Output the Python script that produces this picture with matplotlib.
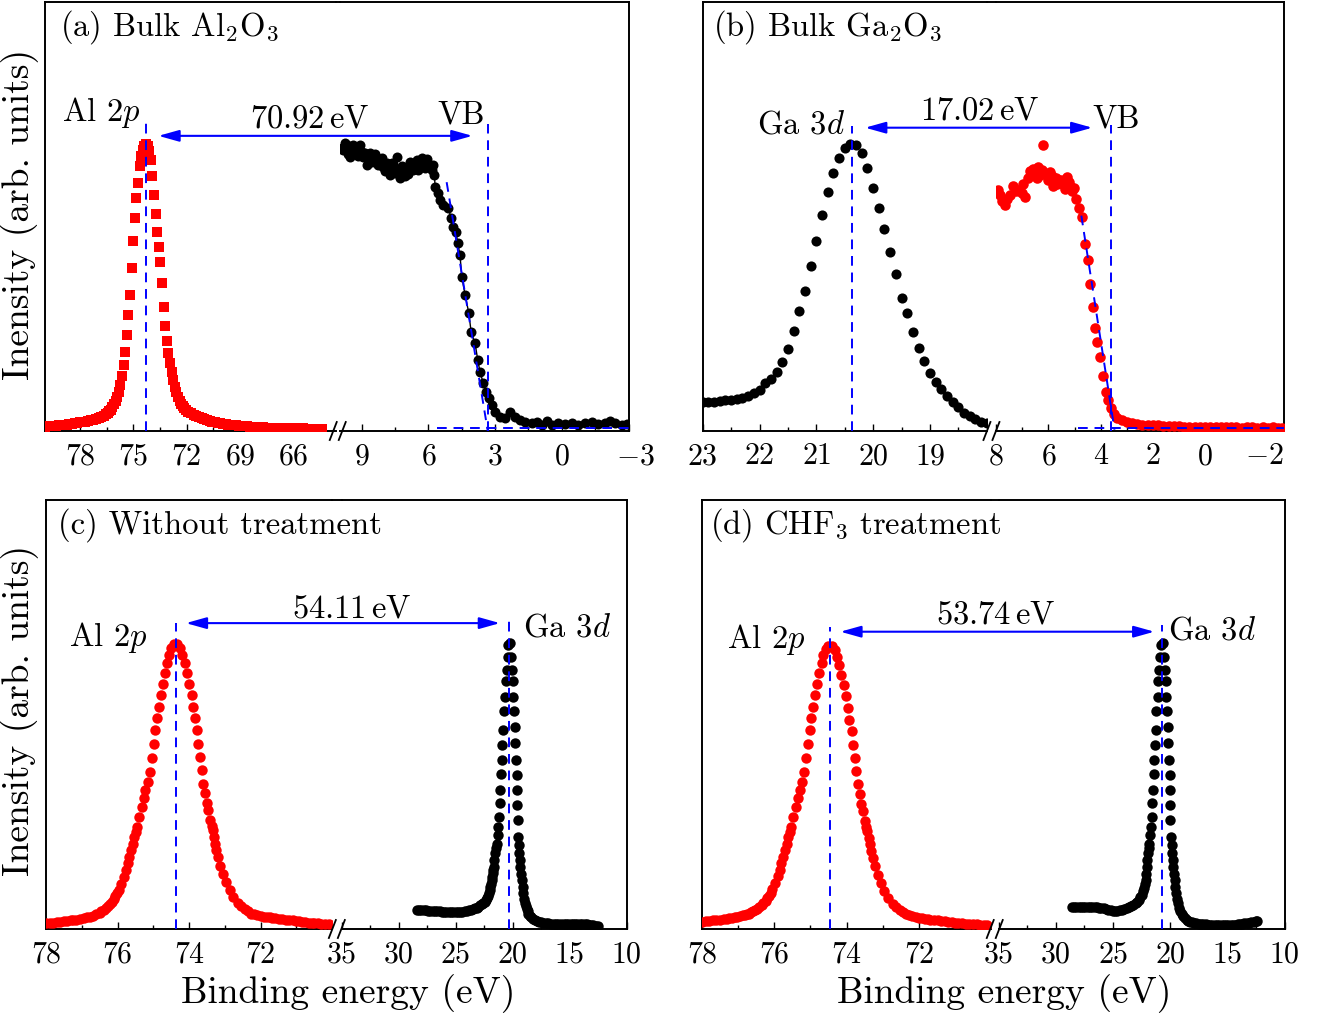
import matplotlib
matplotlib.use('Agg')
import matplotlib.pyplot as plt
from matplotlib.lines import Line2D
from matplotlib.patches import ArrowStyle
from matplotlib.transforms import ScaledTranslation

plt.rcParams['font.family'] = 'cmr10'
plt.rcParams['mathtext.fontset'] = 'cm'
plt.rcParams['axes.formatter.use_mathtext'] = True

# ---------------- data (binding energy eV, intensity as % of axis height) ----------------
# (a) bulk Al2O3 : Al 2p core level
a_al_E = [79.95, 79.8, 79.65, 79.5, 79.35, 79.2, 79.05, 78.9, 78.75, 78.6, 78.45, 78.3, 78.15,
          78.0, 77.85, 77.7, 77.55, 77.4, 77.25, 77.1, 76.95, 76.8, 76.67, 76.54, 76.45,
          76.36, 76.27, 76.18, 76.09, 76.0, 75.91, 75.82, 75.73, 75.64, 75.55, 75.46, 75.37,
          75.28, 75.19, 75.1, 75.01, 74.92, 74.83, 74.74, 74.65, 74.56, 74.47, 74.38, 74.29,
          74.2, 74.11, 74.02, 73.93, 73.84, 73.75, 73.66, 73.57, 73.48, 73.39, 73.3, 73.21,
          73.12, 73.03, 72.94, 72.85, 72.76, 72.67, 72.58, 72.49, 72.4, 72.31, 72.22, 72.13,
          72.04, 71.9, 71.75, 71.6, 71.45, 71.3, 71.15, 71.0, 70.85, 70.7, 70.55, 70.4, 70.25,
          70.1, 69.95, 69.8, 69.65, 69.5, 69.35, 69.2, 69.05, 68.9, 68.75, 68.6, 68.45, 68.3,
          68.15, 68.0, 67.85, 67.7, 67.55, 67.4, 67.25, 67.1, 66.95, 66.8, 66.65, 66.5, 66.35,
          66.2, 66.05, 65.9, 65.75, 65.6, 65.45, 65.3, 65.15, 65.0, 64.85, 64.7, 64.55, 64.4]
a_al_I = [1.0, 1.05, 1.1, 1.15, 1.2, 1.3, 1.35, 1.45, 1.5, 1.6, 1.7, 1.8, 1.9,
          2.0, 2.1, 2.2, 2.3, 2.45, 2.6, 2.8, 3.0, 3.3, 3.6, 4.0, 4.3,
          4.6, 5.0, 5.6, 6.2, 7.0, 8.0, 9.2, 10.8, 12.9, 15.5, 18.5, 22.4,
          27.0, 31.7, 38.1, 44.2, 49.6, 54.2, 57.7, 61.8, 64.2, 65.5, 66.5, 66.8,
          66.4, 65.3, 63.2, 59.5, 55.0, 50.5, 46.5, 43.0, 39.5, 34.5, 29.0, 24.5,
          21.0, 18.2, 15.8, 13.8, 11.8, 10.3, 9.0, 8.0, 7.1, 6.4, 5.8, 5.3,
          4.9, 4.5, 4.2, 3.8, 3.5, 3.2, 3.0, 2.8, 2.6, 2.4, 2.2, 2.0, 1.9,
          1.8, 1.7, 1.6, 1.5, 1.4, 1.35, 1.3, 1.2, 1.15, 1.1, 1.05, 1.0, 0.95,
          0.9, 0.9, 0.85, 0.85, 0.8, 0.8, 0.75, 0.75, 0.7, 0.7, 0.7, 0.65, 0.65,
          0.65, 0.6, 0.6, 0.6, 0.6, 0.6, 0.55, 0.55, 0.55, 0.55, 0.55, 0.55, 0.55]
# (a) valence band
a_vb_E = [9.90, 9.83, 9.76, 9.68, 9.61, 9.53, 9.46, 9.38, 9.31, 9.23, 9.16, 9.08, 9.00, 8.93,
          8.86, 8.78, 8.70, 8.63, 8.55, 8.48, 8.40, 8.33, 8.25, 8.18, 8.10, 8.03, 7.95, 7.88,
          7.80, 7.73, 7.65, 7.58, 7.50, 7.43, 7.35, 7.28, 7.20, 7.13, 7.05, 6.98, 6.90, 6.83,
          6.75, 6.68, 6.60, 6.53, 6.45, 6.38, 6.30, 6.23, 6.15, 6.08, 6.00, 5.93, 5.85, 5.78,
          5.73, 5.70, 5.55, 5.48, 5.33, 5.10, 4.98, 4.90, 4.77, 4.68, 4.58, 4.50, 4.35, 4.18,
          4.08, 3.90, 3.78, 3.68, 3.53, 3.42, 3.27, 3.15, 3.00, 2.78, 2.55, 2.33, 2.10, 1.88,
          1.65, 1.35, 1.13, 0.90, 0.68, 0.45, 0.15, -0.15, -0.45, -0.75, -1.05, -1.35, -1.65,
          -1.95, -2.17, -2.39, -2.69, -2.92]
a_vb_I = [66.0, 65.5, 67.2, 66.7, 64.5, 63.9, 65.8, 66.7, 64.8, 65.9, 64.2, 66.7, 65.0, 63.9,
          64.9, 62.0, 63.5, 64.7, 62.8, 63.9, 64.5, 63.2, 61.9, 62.8, 63.6, 61.6, 60.5, 62.4,
          61.0, 59.7, 62.5, 61.6, 60.2, 63.9, 60.9, 58.9, 61.8, 60.1, 59.5, 61.6, 60.0, 62.8,
          61.5, 60.8, 62.2, 63.2, 60.9, 61.6, 63.6, 62.8, 61.2, 63.5, 62.0, 61.6, 60.8, 62.0,
          59.7, 56.9, 55.4, 53.8, 52.7, 51.9, 49.6, 47.6, 46.5, 43.8, 41.0, 36.0, 31.7, 27.4,
          23.1, 20.4, 16.5, 13.8, 11.1, 9.2, 7.6, 6.1, 4.5, 3.3, 3.0, 4.5, 3.3, 2.6,
          2.2, 1.8, 2.2, 1.4, 2.3, 1.4, 1.8, 1.6, 1.8, 1.4, 1.8, 2.0, 1.6,
          1.8, 2.3, 1.8, 1.4, 1.6]
# (b) bulk Ga2O3 : Ga 3d core level
b_ga_E = [23.0, 22.9, 22.8, 22.7, 22.6, 22.5, 22.4, 22.3, 22.2, 22.1, 22.0, 21.9, 21.8, 21.7,
          21.6, 21.5, 21.4, 21.3, 21.2, 21.1, 21.0, 20.9, 20.8, 20.7, 20.6, 20.5, 20.4, 20.3,
          20.2, 20.1, 20.0, 19.9, 19.8, 19.7, 19.6, 19.5, 19.4, 19.3, 19.2, 19.1, 19.0, 18.9,
          18.8, 18.7, 18.6, 18.5, 18.4, 18.3, 18.2, 18.1, 18.0]
b_ga_I = [6.8, 6.8, 6.8, 7.0, 7.2, 7.3, 7.5, 7.7, 8.2, 8.8, 9.6, 11.1, 12.1, 13.8,
          16.2, 19.2, 23.3, 28.0, 32.7, 38.5, 44.4, 50.3, 55.6, 60.1, 63.7, 65.9, 66.8, 66.7,
          64.7, 61.4, 56.6, 52.0, 47.2, 41.8, 36.5, 31.0, 27.4, 23.1, 19.4, 16.3, 13.6, 11.4,
          9.7, 8.2, 6.7, 5.5, 4.3, 3.5, 2.7, 2.2, 1.8]
# (b) valence band
b_vb_E = [7.92, 7.85, 7.79, 7.67, 7.58, 7.47, 7.35, 7.25, 7.15, 7.03, 6.97, 6.90, 6.77, 6.70,
          6.64, 6.58, 6.51, 6.45, 6.41, 6.32, 6.25, 6.19, 6.06, 6.00, 5.94, 5.88, 5.81, 5.72,
          5.66, 5.61, 5.50, 5.42, 5.35, 5.29, 5.22, 5.17, 5.10, 5.04, 4.95, 4.82, 4.72, 4.61,
          4.49, 4.40, 4.31, 4.20, 4.14, 4.01, 3.92, 3.79, 3.72, 3.59, 3.50, 3.37, 3.18, 3.00,
          2.80, 2.60, 2.40, 2.20, 2.00, 1.80, 1.60, 1.40, 1.20, 1.00, 0.80, 0.60, 0.40, 0.20,
          0.00, -0.20, -0.40, -0.60, -0.80, -1.00, -1.20, -1.40, -1.60, -1.80, -2.00, -2.20,
          -2.40, -2.60, -2.80, -2.95]
b_vb_I = [56.2, 55.0, 53.5, 52.7, 54.0, 55.0, 57.0, 56.0, 56.2, 55.4, 57.5, 54.6, 58.9, 60.5,
          59.7, 61.0, 60.1, 59.0, 61.6, 59.7, 60.8, 66.7, 59.7, 58.5, 60.4, 59.5, 57.0, 58.9,
          57.5, 58.1, 58.5, 57.3, 56.5, 59.3, 58.0, 57.0, 56.0, 56.6, 54.1, 51.9, 49.9, 43.7,
          39.9, 34.3, 28.8, 24.1, 20.8, 17.2, 12.8, 9.2, 7.2, 5.3, 3.9, 3.1, 2.6, 2.2,
          1.8, 1.6, 1.5, 1.4, 1.35, 1.3, 1.2, 1.2, 1.1, 1.05, 1.0, 1.0, 0.95, 0.95,
          0.9, 0.9, 0.9, 0.85, 0.85, 0.9, 0.85, 0.8, 0.85, 0.85, 0.8, 0.85,
          0.8, 0.85, 0.8, 0.8]
# (c) without treatment : Al 2p and Ga 3d
c_al_E = [78.0, 77.9, 77.8, 77.7, 77.6, 77.5, 77.4, 77.3, 77.24, 77.15, 77.05, 76.95, 76.86,
          76.77, 76.7, 76.6, 76.5, 76.45, 76.39, 76.33, 76.27, 76.21, 76.16, 76.11, 76.06,
          76.01, 75.97, 75.9, 75.83, 75.77, 75.72, 75.67, 75.62, 75.57, 75.53, 75.49, 75.45,
          75.39, 75.32, 75.27, 75.22, 75.16, 75.1, 75.04, 74.98, 74.94, 74.89, 74.84, 74.78,
          74.73, 74.68, 74.61, 74.56, 74.5, 74.42, 74.33, 74.25, 74.19, 74.12, 74.06, 74.0,
          73.93, 73.88, 73.84, 73.78, 73.74, 73.69, 73.65, 73.6, 73.56, 73.51, 73.46, 73.41,
          73.37, 73.34, 73.31, 73.28, 73.24, 73.2, 73.13, 73.06, 72.97, 72.87, 72.76, 72.64,
          72.55, 72.45, 72.35, 72.26, 72.18, 72.1, 72.0, 71.9, 71.82, 71.75, 71.67, 71.6,
          71.5, 71.4, 71.3, 71.2, 71.1, 71.0, 70.92, 70.85, 70.75, 70.65, 70.57, 70.5, 70.4,
          70.3, 70.2, 70.1]
c_al_I = [1.3, 1.4, 1.5, 1.6, 1.7, 1.8, 1.9, 2.0, 2.1, 2.2, 2.4, 2.6, 2.75,
          2.9, 3.05, 3.4, 3.8, 4.1, 4.4, 4.85, 5.3, 5.85, 6.4, 7.0, 7.6,
          8.3, 9.1, 10.6, 12.2, 13.7, 15.3, 16.8, 18.4, 19.9, 21.5, 22.6, 23.8,
          26.2, 28.5, 30.6, 32.4, 34.2, 36.5, 39.8, 43.1, 46.4, 49.1, 51.8, 54.5,
          57.1, 59.6, 61.9, 63.9, 65.6, 66.4, 66.4, 65.4, 63.9, 61.9, 59.6, 57.1,
          54.5, 51.8, 49.1, 46.4, 43.1, 40.1, 37.0, 33.9, 31.6, 29.3, 27.7, 25.4,
          24.0, 23.0, 21.5, 19.9, 18.3, 16.8, 14.8, 12.9, 10.9, 9.1, 7.4, 6.0,
          5.3, 4.6, 4.1, 3.6, 3.45, 3.3, 3.1, 2.9, 2.8, 2.7, 2.6, 2.5,
          2.4, 2.3, 2.2, 2.1, 2.0, 1.9, 1.8, 1.7, 1.6, 1.5, 1.45, 1.4, 1.33,
          1.25, 1.18, 1.1]
c_ga_E = [28.41, 28.2, 28.0, 27.8, 27.6, 27.4, 27.2, 27.0, 26.8, 26.6, 26.4, 26.2, 26.0, 25.8,
          25.6, 25.4, 25.2, 25.0, 24.8, 24.6, 24.4, 24.2, 24.0, 23.8, 23.6, 23.45, 23.3, 23.15,
          23.0, 22.85, 22.7, 22.55, 22.41, 22.3, 22.2, 22.13, 22.06, 21.99, 21.93, 21.88, 21.83,
          21.78, 21.73, 21.69, 21.65, 21.59, 21.53, 21.46, 21.39, 21.31, 21.24,
          21.18, 21.13, 21.07, 21.01, 20.95, 20.89, 20.83, 20.77, 20.66, 20.6, 20.51, 20.42,
          20.37, 20.22, 20.13, 20.01, 19.96, 19.93, 19.87, 19.78, 19.75, 19.69, 19.63, 19.6,
          19.58, 19.55, 19.49, 19.45, 19.4, 19.35, 19.31, 19.25, 19.19, 19.12, 19.05, 18.97,
          18.9, 18.82, 18.75, 18.68, 18.61, 18.48, 18.35, 18.2, 18.03, 17.85, 17.7, 17.5, 17.3,
          17.1, 16.86, 16.6, 16.4, 16.2, 16.0, 15.75, 15.5, 15.3, 15.1, 14.9, 14.7, 14.5,
          14.3, 14.1, 13.9, 13.64, 13.45, 13.3, 13.1, 12.9, 12.7, 12.47]
c_ga_I = [4.4, 4.4, 4.4, 4.4, 4.35, 4.3, 4.3, 4.25, 4.2, 4.15, 4.1, 4.05, 4.05, 4.0,
          4.0, 3.95, 3.9, 3.9, 3.9, 3.95, 4.0, 4.1, 4.2, 4.35, 4.5, 4.65, 4.8, 5.0,
          5.2, 5.5, 5.8, 6.1, 6.4, 6.8, 7.3, 7.8, 8.3, 9.0, 9.8, 10.6, 11.4,
          12.2, 13.0, 13.7, 14.5, 16.0, 17.6, 18.8, 19.9, 21.8, 23.8,
          26.2, 29.3, 32.4, 36.1, 39.4, 42.9, 46.4, 50.7, 54.1, 57.7, 60.4, 63.5,
          66.2, 66.6, 63.5, 60.4, 57.7, 54.1, 50.7, 47.2, 43.3, 39.4, 35.9, 32.4,
          28.9, 25.4, 21.5, 19.5, 17.6, 16.0, 14.5, 12.9, 11.4, 9.8, 8.3, 7.1,
          6.0, 5.3, 4.6, 4.1, 3.6, 3.1, 2.7, 2.4, 2.1, 1.9, 1.7, 1.6, 1.5,
          1.4, 1.3, 1.25, 1.2, 1.18, 1.15, 1.12, 1.1, 1.1, 1.1, 1.1, 1.1, 1.1,
          1.1, 1.1, 1.1, 1.1, 1.05, 1.0, 0.93, 0.85, 0.78, 0.7]
# (d) CHF3 treatment : Al 2p and Ga 3d
d_al_E = [78.0, 77.9, 77.8, 77.7, 77.6, 77.5, 77.4, 77.32, 77.25, 77.17, 77.1, 77.02, 76.95,
          76.87, 76.8, 76.75, 76.7, 76.64, 76.58, 76.52, 76.47, 76.41, 76.35, 76.3, 76.24,
          76.19, 76.14, 76.1, 76.05, 75.98, 75.91, 75.85, 75.8, 75.75, 75.7, 75.65, 75.61,
          75.57, 75.53, 75.47, 75.4, 75.35, 75.3, 75.24, 75.18, 75.12, 75.06, 75.02, 74.97,
          74.92, 74.86, 74.81, 74.76, 74.69, 74.64, 74.58, 74.5, 74.41, 74.33, 74.27, 74.2,
          74.14, 74.08, 74.01, 73.96, 73.92, 73.86, 73.82, 73.77, 73.73, 73.68, 73.64, 73.59,
          73.54, 73.49, 73.45, 73.42, 73.39, 73.36, 73.32, 73.28, 73.21, 73.14, 73.05, 72.95,
          72.84, 72.72, 72.63, 72.53, 72.44, 72.34, 72.26, 72.18, 72.08, 71.98, 71.9, 71.83,
          71.75, 71.68, 71.58, 71.48, 71.38, 71.28, 71.18, 71.08, 70.99, 70.9, 70.8, 70.7,
          70.6, 70.5, 70.4, 70.3, 70.2, 70.1]
d_al_I = [1.7, 1.8, 1.9, 2.0, 2.1, 2.2, 2.3, 2.4, 2.5, 2.6, 2.7, 2.85, 3.0,
          3.15, 3.3, 3.45, 3.6, 3.85, 4.1, 4.4, 4.7, 5.1, 5.5, 6.0, 6.6,
          7.2, 7.8, 8.5, 9.3, 10.8, 12.3, 13.8, 15.3, 16.8, 18.4, 19.9, 21.5,
          22.6, 23.8, 26.2, 28.5, 30.6, 32.4, 34.2, 36.5, 39.8, 43.1, 46.4, 49.1,
          51.8, 54.5, 57.1, 59.6, 61.9, 63.9, 65.3, 65.9, 65.9, 65.0, 63.5, 61.5,
          59.3, 56.8, 54.2, 51.5, 48.8, 46.1, 42.8, 39.8, 36.8, 33.7, 31.4, 29.1,
          27.5, 25.2, 23.8, 22.8, 21.3, 19.7, 18.1, 16.6, 14.6, 12.7, 10.7, 8.9,
          7.2, 5.8, 5.1, 4.4, 3.9, 3.4, 3.2, 3.0, 2.8, 2.6, 2.5, 2.4,
          2.3, 2.2, 2.1, 2.0, 1.9, 1.8, 1.7, 1.6, 1.5, 1.4, 1.3, 1.2,
          1.15, 1.1, 1.05, 1.0, 0.95, 0.9]
d_ga_E = [28.6, 28.4, 28.2, 28.0, 27.8, 27.6, 27.4, 27.2, 27.0, 26.8, 26.6, 26.4, 26.2, 26.0,
          25.8, 25.6, 25.4, 25.2, 25.0, 24.8, 24.6, 24.4, 24.2, 24.0, 23.8, 23.6, 23.4, 23.2,
          23.0, 22.87, 22.75, 22.62, 22.5, 22.4, 22.3, 22.22, 22.15, 22.1, 22.05, 22.0, 21.95,
          21.88, 21.81, 21.73, 21.66, 21.6, 21.55, 21.49,
          21.43, 21.37, 21.31, 21.25, 21.19, 21.08, 21.02, 20.93, 20.84, 20.79, 20.64, 20.55,
          20.43, 20.38, 20.35, 20.29, 20.2, 20.17, 20.11, 20.05, 20.02, 20.0, 19.97, 19.91,
          19.87, 19.82, 19.78, 19.73, 19.67, 19.61, 19.54, 19.47, 19.4, 19.32, 19.2, 19.1,
          18.97, 18.85, 18.7, 18.55, 18.4, 18.25, 18.08, 17.9, 17.7, 17.5, 17.3, 17.1,
          16.9, 16.7, 16.5, 16.3, 16.1, 15.9, 15.7, 15.5, 15.3, 15.1, 14.9, 14.7, 14.5,
          14.3, 14.1, 13.9, 13.7, 13.5, 13.3, 13.1, 12.9, 12.7, 12.5, 12.37]
d_ga_I = [5.2, 5.2, 5.2, 5.2, 5.2, 5.2, 5.2, 5.2, 5.2, 5.15, 5.1, 5.05, 5.0, 4.9,
          4.8, 4.65, 4.5, 4.4, 4.3, 4.25, 4.3, 4.4, 4.5, 4.65, 4.8, 5.05, 5.3, 5.6,
          6.0, 6.4, 6.8, 7.4, 8.0, 8.8, 9.6, 10.5, 11.4, 12.9, 14.5, 16.0, 17.6,
          18.8, 19.9, 21.8, 23.8, 26.2, 29.3, 32.4,
          36.1, 39.4, 42.9, 46.4, 50.7, 54.1, 57.7, 60.4, 63.5, 66.2, 66.6, 63.5,
          60.4, 57.7, 54.1, 50.7, 47.2, 43.3, 39.4, 35.9, 32.4, 28.9, 25.4, 21.5,
          19.5, 17.6, 16.0, 14.5, 12.9, 11.4, 9.8, 8.3, 7.1, 6.0, 5.0, 4.2,
          3.6, 3.0, 2.6, 2.2, 1.95, 1.7, 1.55, 1.4, 1.3, 1.2, 1.15, 1.1,
          1.05, 1.0, 1.0, 1.0, 1.0, 1.0, 1.0, 1.0, 1.0, 1.0, 1.0, 1.0, 1.0,
          1.0, 1.05, 1.1, 1.2, 1.3, 1.4, 1.5, 1.6, 1.7, 1.8, 1.9]

# peak / edge positions (eV) and labels
a_al2p, a_vbm = 74.29, 3.33
b_ga3d, b_vbm = 20.37, 3.59
c_al2p, c_ga3d = 74.38, 20.27
d_al2p, d_ga3d = 74.46, 20.72
gap_labels = ['70.92$\\,$eV', '17.02$\\,$eV', '54.11$\\,$eV', '53.74$\\,$eV']
# linear leading-edge extrapolations (E, I) and flat baselines (E range, I)
a_edge = ([5.18, 3.33], [58.0, 0.0]); a_base = ([5.63, -3.0], [0.8, 0.8])
b_edge = ([4.74, 3.47], [50.2, 0.3]); b_base = ([4.85, -3.0], [0.6, 0.6])

# ---------------- figure ----------------
W, H = 1321, 1013
fig = plt.figure(figsize=(W / 100, H / 100), dpi=100)
TICK, ANN, LAB = 21.5, 23.5, 27
BLUE = '#0000ff'
DASH = (0, (5, 3.5))


def fx(x):
    return x / W


def fy(y):
    return 1 - y / H


def add_ax(x0, x1, ytop, ybot):
    return fig.add_axes([x0 / W, 1 - ybot / H, (x1 - x0) / W, (ybot - ytop) / H])


def panel(ytop, ybot, lx, rx, llim, rlim, lmaj, lmin, rmaj, rmin):
    axL = add_ax(lx[0], lx[1], ytop, ybot)
    axR = add_ax(rx[0], rx[1], ytop, ybot)
    for ax, lim, maj, mn in ((axL, llim, lmaj, lmin), (axR, rlim, rmaj, rmin)):
        ax.set_xlim(*lim)
        ax.set_ylim(0, 100)
        ax.set_yticks([])
        ax.set_xticks(maj, labels=['$%g$' % v for v in maj])
        ax.set_xticks(mn, minor=True)
        ax.tick_params(axis='x', which='both', direction='in', top=False, bottom=True,
                       labelsize=TICK, pad=8.5, width=1.0)
        ax.tick_params(axis='x', which='major', length=5)
        ax.tick_params(axis='x', which='minor', length=3)
        ax.set_axisbelow(True)
        for s in ax.spines.values():
            s.set_linewidth(1.4)
        for t in ax.xaxis.get_major_ticks():
            if t.get_loc() < 0:
                t.label1.set_transform(t.label1.get_transform() +
                                       ScaledTranslation(7 / 100, 0, fig.dpi_scale_trans))
    axL.spines['right'].set_visible(False)
    axR.spines['left'].set_visible(False)
    # top frame across the gap and the // break marks
    fig.add_artist(Line2D([fx(lx[1]), fx(rx[0])], [fy(ytop), fy(ytop)],
                          transform=fig.transFigure, color='k', lw=1.4))
    xc = (lx[1] + rx[0]) / 2
    for dx in (-4.5, 4.5):
        fig.add_artist(Line2D([fx(xc + dx - 3.5), fx(xc + dx + 3.5)],
                              [fy(ybot + 9), fy(ybot - 9)],
                              transform=fig.transFigure, color='k', lw=1.3))
    return axL, axR


def vline(ax, x, top):
    ax.plot([x, x], [0, top], color=BLUE, lw=1.4, ls=DASH, zorder=4)


def arrow(axL, xL, axR, xR, y):
    axR.annotate('', xy=(xR, y), xycoords='data', xytext=(xL, y), textcoords=axL.transData,
                 annotation_clip=False,
                 arrowprops=dict(arrowstyle=ArrowStyle('<|-|>', head_length=1.25, head_width=0.35),
                                 mutation_scale=10, color=BLUE, lw=1.5, shrinkA=0, shrinkB=0))


def txt(x, y, s, ha='left', size=ANN):
    fig.text(fx(x), fy(y), s, ha=ha, va='baseline', fontsize=size)


def dots(ax, E, I, color, marker='o', ms=7.5):
    ax.plot(E, I, ls='none', marker=marker, ms=ms, mew=0, color=color, zorder=3)


# (a)
aL, aR = panel(2, 431, (44.5, 336), (339.5, 628.5), (80, 63.6), (10, -3),
               [78, 75, 72, 69, 66], [79.5, 76.5, 73.5, 70.5, 67.5, 64.5],
               [9, 6, 3, 0, -3], [7.5, 4.5, 1.5, -1.5])
dots(aL, a_al_E, a_al_I, 'red', marker='s', ms=6.6)
aR.plot(a_vb_E, a_vb_I, ls='-', lw=1.0, color='k', zorder=3)
dots(aR, a_vb_E, a_vb_I, 'k', ms=7.2)
aR.plot(*a_edge, color=BLUE, lw=1.4, ls=DASH, zorder=4)
aR.plot(*a_base, color=BLUE, lw=1.4, ls=DASH, zorder=4)
vline(aL, a_al2p, 71.7)
vline(aR, a_vbm, 71.5)
arrow(aL, 73.59, aR, 4.02, 68.8)

# (b)
bL, bR = panel(2, 431, (702.7, 986.7), (996.2, 1283.5), (23, 18), (8, -3),
               [23, 22, 21, 20, 19], [22.5, 21.5, 20.5, 19.5, 18.5],
               [8, 6, 4, 2, 0, -2], [7, 5, 3, 1, -1])
dots(bL, b_ga_E, b_ga_I, 'k', ms=7.3)
dots(bR, b_vb_E, b_vb_I, 'red', ms=7.6)
bR.plot(*b_edge, color=BLUE, lw=1.4, ls=DASH, zorder=4)
bR.plot(*b_base, color=BLUE, lw=1.4, ls=DASH, zorder=4)
vline(bL, b_ga3d, 71.2)
vline(bR, b_vbm, 71.3)
arrow(bL, 20.14, bR, 4.32, 70.7)

# (c)
cL, cR = panel(500, 929, (46, 332.2), (341.5, 626.5), (78, 70), (35, 10),
               [78, 76, 74, 72], [77, 75, 73, 71],
               [35, 30, 25, 20, 15, 10], [32.5, 27.5, 22.5, 17.5, 12.5])
dots(cL, c_al_E, c_al_I, 'red')
dots(cR, c_ga_E, c_ga_I, 'k')
vline(cL, c_al2p, 71.3)
vline(cR, c_ga3d, 73.0)
arrow(cL, 74.09, cR, 21.1, 71.3)

# (d)
dL, dR = panel(500, 929, (702, 991), (998.5, 1284.5), (78, 70), (35, 10),
               [78, 76, 74, 72], [77, 75, 73, 71],
               [35, 30, 25, 20, 15, 10], [32.5, 27.5, 22.5, 17.5, 12.5])
dots(dL, d_al_E, d_al_I, 'red')
dots(dR, d_ga_E, d_ga_I, 'k')
vline(dL, d_al2p, 70.5)
vline(dR, d_ga3d, 70.9)
arrow(dL, 74.17, dR, 21.38, 69.3)

# texts
txt(60, 36, '(a) Bulk Al$_2$O$_3$')
txt(62, 121, 'Al 2$p$')
txt(310, 127, gap_labels[0], ha='center')
txt(437, 124, 'VB')
txt(713, 36, '(b) Bulk Ga$_2$O$_3$')
txt(845, 134, 'Ga 3$d$', ha='right')
txt(980, 119, gap_labels[1], ha='center')
txt(1092, 127, 'VB')
txt(58, 534, '(c) Without treatment')
txt(69, 646, 'Al 2$p$')
txt(352, 618, gap_labels[2], ha='center')
txt(523, 636, 'Ga 3$d$')
txt(710, 534, '(d) CHF$_3$ treatment')
txt(727, 648, 'Al 2$p$')
txt(996, 624, gap_labels[3], ha='center')
txt(1168, 639, 'Ga 3$d$')

for xc in (348, 1004):
    txt(xc, 1003, 'Binding energy (eV)', ha='center', size=LAB)
for yc in (214, 710):
    fig.text(fx(20), fy(yc), 'Inensity (arb. units)', rotation=90, ha='center', va='center',
             fontsize=LAB)

fig.savefig('out.png', dpi=100)
